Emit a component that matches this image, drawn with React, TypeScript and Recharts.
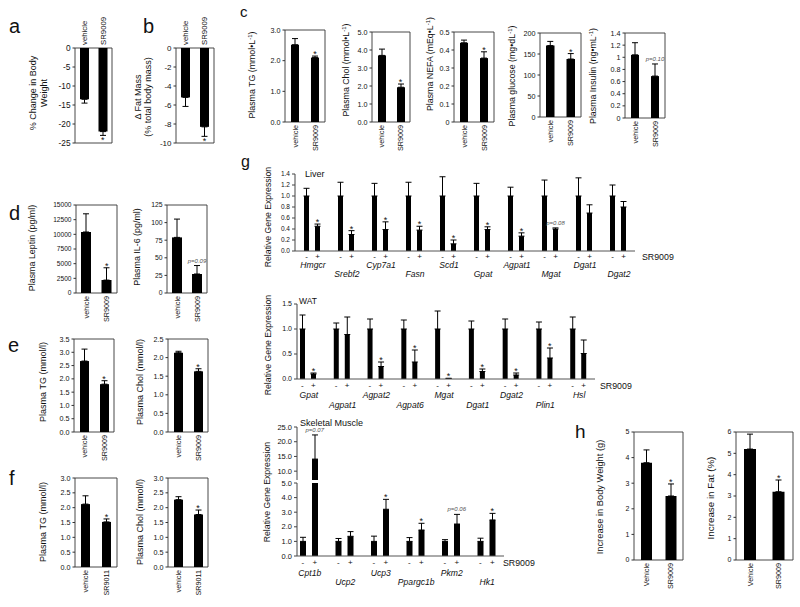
import React from "react";
import { ComposedChart, Bar, Line, XAxis, YAxis, ErrorBar, ReferenceArea } from "recharts";

const FONT = "'Liberation Sans', Arial, Helvetica, sans-serif";
const INK = "#111";
const FRAME = "#333";

// ---------- data ----------
// a / b
const vehCats = ["vehicle", "SR9009"];
const bodyWeightChange = [-13.5, -22.0];
const bodyWeightChangeErr = [1.0, 1.0];
const bodyWeightTicks = [-25, -20, -15, -10, -5, 0];
const fatMassChange = [-5.2, -8.3];
const fatMassChangeErr = [0.95, 1.0];
const fatMassTicks = [-10, -8, -6, -4, -2, 0];
const starOnTreated = ["", "*"];

// c
const tgC = [2.52, 2.1];
const tgCErr = [0.2, 0.05];
const tgCTicks = [0, 1, 2, 3];
const cholC = [3.7, 1.93];
const cholCErr = [0.35, 0.18];
const cholCTicks = [0, 1, 2, 3, 4, 5];
const nefaC = [0.44, 0.355];
const nefaCErr = [0.015, 0.035];
const nefaCTicks = [0, 0.1, 0.2, 0.3, 0.4, 0.5];
const glucoseC = [170, 138];
const glucoseCErr = [10, 13];
const glucoseCTicks = [0, 50, 100, 150, 200];
const insulinC = [1.04, 0.69];
const insulinCErr = [0.2, 0.2];
const insulinCSig = ["", "p=0.10"];
const insulinCTicks = [0, 0.2, 0.4, 0.6, 0.8, 1, 1.2, 1.4];

// d
const leptin = [10400, 2200];
const leptinErr = [3100, 2100];
const leptinTicks = [0, 2500, 5000, 7500, 10000, 12500, 15000];
const il6 = [79, 27];
const il6Err = [26, 12];
const il6Sig = ["", "p=0.09"];
const il6Ticks = [0, 25, 50, 75, 100, 125];

// e
const tgE = [2.67, 1.8];
const tgEErr = [0.45, 0.13];
const tgETicks = [0, 0.5, 1, 1.5, 2, 2.5, 3, 3.5];
const cholE = [2.13, 1.63];
const cholEErr = [0.04, 0.07];
const cholETicks = [0, 0.5, 1, 1.5, 2, 2.5];

// f
const sr9011Cats = ["vehicle", "SR9011"];
const tgF = [2.12, 1.52];
const tgFErr = [0.28, 0.1];
const cholF = [2.27, 1.77];
const cholFErr = [0.1, 0.15];
const fTicks = [0, 0.5, 1, 1.5, 2, 2.5, 3];

// g liver
const liverGenes = ["Hmgcr", "Srebf2", "Cyp7a1", "Fasn", "Scd1", "Gpat", "Agpat1", "Mgat", "Dgat1", "Dgat2"];
const liverCtrl = [1, 1, 1, 1, 1, 1, 1, 1, 1, 1];
const liverCtrlErr = [0.14, 0.25, 0.23, 0.25, 0.35, 0.23, 0.16, 0.29, 0.33, 0.2];
const liverTrt = [0.45, 0.3, 0.39, 0.38, 0.13, 0.39, 0.27, 0.4, 0.69, 0.8];
const liverTrtErr = [0.04, 0.07, 0.14, 0.07, 0.07, 0.05, 0.06, 0.02, 0.15, 0.1];
const liverSig = ["*", "*", "*", "*", "*", "*", "*", "p=0.08", "", ""];
const liverTicks = [0, 0.2, 0.4, 0.6, 0.8, 1, 1.2, 1.4];

// g WAT
const watGenes = ["Gpat", "Agpat1", "Agpat2", "Agpat6", "Mgat", "Dgat1", "Dgat2", "Plin1", "Hsl"];
const watCtrl = [1, 1, 1, 1, 1, 1, 1, 1, 1];
const watCtrlErr = [0.28, 0.12, 0.2, 0.18, 0.36, 0.16, 0.2, 0.14, 0.24];
const watTrt = [0.1, 0.89, 0.25, 0.34, 0.01, 0.15, 0.08, 0.42, 0.51];
const watTrtErr = [0.02, 0.35, 0.09, 0.24, 0.005, 0.05, 0.04, 0.2, 0.27];
const watSig = ["*", "", "*", "*", "*", "*", "*", "*", ""];
const watTicks = [0, 0.5, 1, 1.5];

// g skeletal muscle
const muscleGenes = ["Cpt1b", "Ucp2", "Ucp3", "Ppargc1b", "Pkm2", "Hk1"];
const muscleCtrl = [1, 1, 1, 1, 1, 1];
const muscleCtrlErr = [0.28, 0.2, 0.36, 0.26, 0.12, 0.22];
const muscleTrt = [14.1, 1.35, 3.2, 1.78, 2.19, 2.47];
const muscleTrtErr = [8.2, 0.32, 0.68, 0.46, 0.66, 0.45];
const muscleSig = ["p=0.07", "", "*", "*", "p=0.06", "*"];
const muscleLowTicks = [0, 1, 2, 3, 4, 5];
const muscleHighTicks = [10, 15, 20, 25];

// h
const hCats = ["Vehicle", "SR9009"];
const bwGain = [3.8, 2.5];
const bwGainErr = [0.5, 0.47];
const bwGainTicks = [0, 1, 2, 3, 4, 5];
const fatGain = [5.2, 3.2];
const fatGainErr = [0.7, 0.55];
const fatGainTicks = [0, 1, 2, 3, 4, 5, 6];

// ---------- helpers ----------
const M = 40;
const XH = 30;
const YW = 36;
const f1 = (v: number) => v.toFixed(1);
const plain = (v: number) => String(v);

function markDot(below: boolean, dx: number) {
  return (d: any) => {
    const key = `mark-${d.index}`;
    const mark = d.payload ? d.payload.mark : "";
    if (!mark || d.cy == null || Number.isNaN(d.cy)) return <g key={key} />;
    const star = mark === "*";
    const y = below ? d.cy + 8 : d.cy + (star ? 1 : -3);
    return (
      <text
        key={key}
        x={d.cx + dx}
        y={y}
        textAnchor="middle"
        fontFamily={FONT}
        fontSize={star ? 9 : 6}
        fontStyle={star ? "normal" : "italic"}
        fill={star ? INK : "#555"}
      >
        {mark}
      </text>
    );
  };
}

function CatTick(props: any) {
  const { x, y, payload, top, fs } = props;
  const bx = x + fs * 0.36;
  const by = top ? y - 3 : y + 3;
  return (
    <text
      x={bx}
      y={by}
      transform={`rotate(-90 ${bx} ${by})`}
      textAnchor={top ? "start" : "end"}
      fontSize={fs}
      fontFamily={FONT}
      fill={INK}
    >
      {payload.value}
    </text>
  );
}

type PairProps = {
  x: number;
  y: number;
  w: number;
  h: number;
  cats: string[];
  values: number[];
  errs: number[];
  sig: string[];
  domain: [number, number];
  ticks: number[];
  fmt: (v: number) => string;
  barSize: number;
  tickFs?: number;
  catFs?: number;
  labelsTop?: boolean;
};

function PairChart(p: PairProps) {
  const [lo, hi] = p.domain;
  const down = hi <= 0;
  const rows = p.cats.map((name, i) => ({
    name,
    value: p.values[i],
    err: down ? [p.errs[i], 0] : [0, p.errs[i]],
    mark: p.sig[i],
    markPos: p.sig[i] ? (down ? p.values[i] - p.errs[i] : p.values[i] + p.errs[i]) : null,
  }));
  const top = !!p.labelsTop;
  const catFs = p.catFs ?? 7.2;
  return (
    <div style={{ position: "absolute", left: p.x - M, top: p.y - M }}>
      <ComposedChart
        width={p.w + 2 * M}
        height={p.h + 2 * M}
        data={rows}
        margin={{ top: top ? M - XH : M, right: M, bottom: top ? M : M - XH, left: M - YW }}
      >
        <XAxis
          dataKey="name"
          orientation={top ? "top" : "bottom"}
          height={XH}
          axisLine={false}
          tickLine={false}
          tickSize={0}
          tickMargin={0}
          interval={0}
          tick={(t: any) => <CatTick {...t} top={top} fs={catFs} />}
        />
        <YAxis
          type="number"
          width={YW}
          domain={p.domain}
          ticks={p.ticks}
          interval={0}
          allowDataOverflow
          tickFormatter={p.fmt}
          axisLine={false}
          tickSize={2.5}
          tickMargin={2}
          tickLine={{ stroke: FRAME }}
          tick={{ fontSize: p.tickFs ?? 7.2, fill: INK, fontFamily: FONT }}
        />
        <ReferenceArea y1={lo} y2={hi} fill="none" stroke={FRAME} strokeWidth={0.9} ifOverflow="visible" />
        <Bar dataKey="value" fill="#000" barSize={p.barSize} isAnimationActive={false}>
          <ErrorBar dataKey="err" width={3} stroke="#000" strokeWidth={1} direction="y" />
        </Bar>
        <Line dataKey="markPos" stroke="none" isAnimationActive={false} activeDot={false} dot={markDot(down, 0)} />
      </ComposedChart>
    </div>
  );
}

function GeneTick(props: any) {
  const { x, y, payload, index, off, dy } = props;
  return (
    <g>
      <text x={x - off} y={y + dy[0]} textAnchor="middle" fontSize={8} fontFamily={FONT} fill={INK}>
        -
      </text>
      <text x={x + off} y={y + dy[0]} textAnchor="middle" fontSize={8} fontFamily={FONT} fill={INK}>
        +
      </text>
      <text
        x={x + 1}
        y={y + (index % 2 ? dy[2] : dy[1])}
        textAnchor="middle"
        fontStyle="italic"
        fontSize={8.6}
        fontFamily={FONT}
        fill={INK}
      >
        {payload.value}
      </text>
    </g>
  );
}

type GeneProps = {
  x: number;
  y: number;
  w: number;
  h: number;
  genes: string[];
  ctrl: number[];
  ctrlErr: number[];
  trt: number[];
  trtErr: number[];
  sig: string[];
  domain: [number, number];
  ticks: number[];
  barSize: number;
  barGap: number;
  padLeft: number;
  tickFs: number;
  dy?: number[];
};

function GeneChart(p: GeneProps) {
  const [lo, hi] = p.domain;
  const shown = (v: number) => (v >= lo ? v : null);
  const errOf = (v: number, e: number) => (v >= lo && v <= hi ? [0, e] : null);
  const rows = p.genes.map((name, i) => {
    const topVal = p.trt[i] + p.trtErr[i];
    return {
      name,
      ctrl: shown(p.ctrl[i]),
      ctrlErr: errOf(p.ctrl[i], p.ctrlErr[i]),
      trt: shown(p.trt[i]),
      trtErr: errOf(p.trt[i], p.trtErr[i]),
      mark: p.sig[i],
      markPos: p.sig[i] && topVal >= lo && topVal <= hi ? topVal : null,
    };
  });
  const hasX = !!p.dy;
  const off = (p.barSize + p.barGap) / 2;
  return (
    <div style={{ position: "absolute", left: p.x - M, top: p.y - M }}>
      <ComposedChart
        width={p.w + 2 * M}
        height={p.h + 2 * M}
        data={rows}
        barGap={p.barGap}
        margin={{ top: M, right: M, bottom: hasX ? M - XH : M, left: M - YW }}
      >
        <XAxis
          dataKey="name"
          hide={!hasX}
          height={XH}
          padding={{ left: p.padLeft, right: 0 }}
          axisLine={{ stroke: "#555" }}
          tickLine={false}
          tickSize={0}
          tickMargin={0}
          interval={0}
          tick={(t: any) => <GeneTick {...t} off={off} dy={p.dy} />}
        />
        <YAxis
          type="number"
          width={YW}
          domain={p.domain}
          ticks={p.ticks}
          interval={0}
          allowDataOverflow
          tickFormatter={f1}
          axisLine={{ stroke: "#444" }}
          tickLine={{ stroke: "#444" }}
          tickSize={3}
          tickMargin={2}
          tick={{ fontSize: p.tickFs, fill: INK, fontFamily: FONT }}
        />
        <Bar dataKey="ctrl" fill="#000" barSize={p.barSize} isAnimationActive={false}>
          <ErrorBar dataKey="ctrlErr" width={3} stroke="#000" strokeWidth={1} direction="y" />
        </Bar>
        <Bar dataKey="trt" fill="#000" barSize={p.barSize} isAnimationActive={false}>
          <ErrorBar dataKey="trtErr" width={3} stroke="#000" strokeWidth={1} direction="y" />
        </Bar>
        <Line dataKey="markPos" stroke="none" isAnimationActive={false} activeDot={false} dot={markDot(false, off)} />
      </ComposedChart>
    </div>
  );
}

function VT({ cx, cy, fs, children }: { cx: number; cy: number; fs: number; children: React.ReactNode }) {
  const x = cx + fs * 0.36;
  return (
    <text x={x} y={cy} transform={`rotate(-90 ${x} ${cy})`} textAnchor="middle" fontSize={fs}>
      {children}
    </text>
  );
}

function Sup({ s }: { s: string }) {
  return (
    <>
      <tspan dy={-3} fontSize={6}>
        {s}
      </tspan>
      <tspan dy={3}>)</tspan>
    </>
  );
}

function Overlay() {
  return (
    <svg
      width={800}
      height={607}
      style={{ position: "absolute", left: 0, top: 0, pointerEvents: "none" }}
      fontFamily={FONT}
      fill={INK}
    >
      <g fontSize={20}>
        <text x={9} y={33}>a</text>
        <text x={143} y={33}>b</text>
        <text x={9} y={220}>d</text>
        <text x={8} y={352}>e</text>
        <text x={9} y={485}>f</text>
        <text x={575} y={438} fontSize={19}>h</text>
        <text x={240} y={17} fontSize={15}>c</text>
        <text x={241} y={167} fontSize={16}>g</text>
      </g>

      <VT cx={33} cy={93} fs={9}>% Change in Body</VT>
      <VT cx={44} cy={93} fs={9}>Weight</VT>
      <VT cx={138} cy={97} fs={9}>Δ Fat Mass</VT>
      <VT cx={148} cy={97} fs={9}>(% total body mass)</VT>

      <VT cx={252} cy={75} fs={8.8}>
        Plasma TG (mmol•L<Sup s="-1" />
      </VT>
      <VT cx={346} cy={70} fs={8.8}>
        Plasma Chol (mmol•L<Sup s="-1" />
      </VT>
      <VT cx={430} cy={64} fs={8.8}>
        Plasma NEFA (mEq•L<Sup s="-1" />
      </VT>
      <VT cx={512} cy={76} fs={8.8}>
        Plasma glucose (mg•dL<Sup s="-1" />
      </VT>
      <VT cx={593} cy={76} fs={8.8}>
        Plasma Insulin (ng•mL<Sup s="-1" />
      </VT>

      <VT cx={32} cy={248} fs={8.9}>Plasma Leptin (pg/ml)</VT>
      <VT cx={137} cy={247} fs={8.9}>Plasma IL-6 (pg/ml)</VT>
      <VT cx={43} cy={382} fs={9}>Plasma TG (mmol/l)</VT>
      <VT cx={140} cy={382} fs={9}>Plasma Chol (mmol/l)</VT>
      <VT cx={43} cy={522} fs={9}>Plasma TG (mmol/l)</VT>
      <VT cx={140} cy={522} fs={9}>Plasma Chol (mmol/l)</VT>

      <VT cx={268} cy={217} fs={8.7}>Relative Gene Expression</VT>
      <VT cx={268} cy={345} fs={8.7}>Relative Gene Expression</VT>
      <VT cx={267} cy={492} fs={8.7}>Relative Gene Expression</VT>
      <VT cx={600} cy={497} fs={9.3}>Increase in Body Weight (g)</VT>
      <VT cx={710} cy={498} fs={9.8}>Increase in Fat (%)</VT>

      <text x={305} y={177} fontSize={9}>Liver</text>
      <text x={299} y={304} fontSize={8.5}>WAT</text>
      <text x={300} y={426} fontSize={9}>Skeletal Muscle</text>
      <text x={642} y={260} fontSize={8.8}>SR9009</text>
      <text x={600} y={389} fontSize={8.8}>SR9009</text>
      <text x={503} y={566} fontSize={8.8}>SR9009</text>
    </svg>
  );
}

export default function App() {
  return (
    <div
      style={{
        position: "absolute",
        left: 0,
        top: 0,
        width: 800,
        height: 607,
        background: "#fff",
        overflow: "hidden",
        fontFamily: FONT,
      }}
    >
      {/* a, b */}
      <PairChart x={75} y={48} w={37} h={95} cats={vehCats} values={bodyWeightChange} errs={bodyWeightChangeErr}
        sig={starOnTreated} domain={[-25, 0]} ticks={bodyWeightTicks} fmt={plain} barSize={9} tickFs={8.3} catFs={7.8} labelsTop />
      <PairChart x={176} y={48} w={38} h={95} cats={vehCats} values={fatMassChange} errs={fatMassChangeErr}
        sig={starOnTreated} domain={[-10, 0]} ticks={fatMassTicks} fmt={plain} barSize={9} tickFs={8} catFs={7.8} labelsTop />

      {/* c */}
      <PairChart x={285} y={30} w={40} h={92} cats={vehCats} values={tgC} errs={tgCErr} sig={starOnTreated}
        domain={[0, 3]} ticks={tgCTicks} fmt={f1} barSize={8} />
      <PairChart x={372} y={32} w={38} h={90} cats={vehCats} values={cholC} errs={cholCErr} sig={starOnTreated}
        domain={[0, 5]} ticks={cholCTicks} fmt={f1} barSize={8} />
      <PairChart x={454} y={32} w={40} h={90} cats={vehCats} values={nefaC} errs={nefaCErr} sig={starOnTreated}
        domain={[0, 0.5]} ticks={nefaCTicks} fmt={plain} barSize={8} />
      <PairChart x={540} y={33} w={41} h={84} cats={vehCats} values={glucoseC} errs={glucoseCErr} sig={starOnTreated}
        domain={[0, 200]} ticks={glucoseCTicks} fmt={plain} barSize={8.5} />
      <PairChart x={625} y={33} w={40} h={85} cats={vehCats} values={insulinC} errs={insulinCErr} sig={insulinCSig}
        domain={[0, 1.4]} ticks={insulinCTicks} fmt={plain} barSize={8} />

      {/* d */}
      <PairChart x={76} y={205} w={41} h={88} cats={vehCats} values={leptin} errs={leptinErr} sig={starOnTreated}
        domain={[0, 15000]} ticks={leptinTicks} fmt={plain} barSize={10} tickFs={6.6} />
      <PairChart x={167} y={205} w={40} h={88} cats={vehCats} values={il6} errs={il6Err} sig={il6Sig}
        domain={[0, 125]} ticks={il6Ticks} fmt={plain} barSize={10} tickFs={6.8} />

      {/* e */}
      <PairChart x={74} y={339} w={40} h={93} cats={vehCats} values={tgE} errs={tgEErr} sig={starOnTreated}
        domain={[0, 3.5]} ticks={tgETicks} fmt={f1} barSize={9} />
      <PairChart x={168} y={339} w={40} h={93} cats={vehCats} values={cholE} errs={cholEErr} sig={starOnTreated}
        domain={[0, 2.5]} ticks={cholETicks} fmt={f1} barSize={9} />

      {/* f */}
      <PairChart x={75} y={478} w={42} h={89} cats={sr9011Cats} values={tgF} errs={tgFErr} sig={starOnTreated}
        domain={[0, 3]} ticks={fTicks} fmt={f1} barSize={9} />
      <PairChart x={168} y={478} w={40} h={89} cats={sr9011Cats} values={cholF} errs={cholFErr} sig={starOnTreated}
        domain={[0, 3]} ticks={fTicks} fmt={f1} barSize={9} />

      {/* g */}
      <GeneChart x={295} y={174} w={340} h={77} genes={liverGenes} ctrl={liverCtrl} ctrlErr={liverCtrlErr}
        trt={liverTrt} trtErr={liverTrtErr} sig={liverSig} domain={[0, 1.4]} ticks={liverTicks}
        barSize={5} barGap={6} padLeft={0} tickFs={6.5} dy={[8, 17, 26]} />
      <GeneChart x={297} y={304} w={298} h={75} genes={watGenes} ctrl={watCtrl} ctrlErr={watCtrlErr}
        trt={watTrt} trtErr={watTrtErr} sig={watSig} domain={[0, 1.5]} ticks={watTicks}
        barSize={5} barGap={6} padLeft={-6} tickFs={7} dy={[9, 19, 29]} />
      <GeneChart x={297} y={427} w={207} h={53} genes={muscleGenes} ctrl={muscleCtrl} ctrlErr={muscleCtrlErr}
        trt={muscleTrt} trtErr={muscleTrtErr} sig={muscleSig} domain={[7, 25]} ticks={muscleHighTicks}
        barSize={6} barGap={6} padLeft={-6} tickFs={7.5} />
      <GeneChart x={297} y={483} w={207} h={73} genes={muscleGenes} ctrl={muscleCtrl} ctrlErr={muscleCtrlErr}
        trt={muscleTrt} trtErr={muscleTrtErr} sig={muscleSig} domain={[0, 5]} ticks={muscleLowTicks}
        barSize={6} barGap={6} padLeft={-6} tickFs={7.5} dy={[9, 20, 29]} />

      {/* h */}
      <PairChart x={634} y={432} w={49} h={128} cats={hCats} values={bwGain} errs={bwGainErr} sig={starOnTreated}
        domain={[0, 5]} ticks={bwGainTicks} fmt={plain} barSize={11} tickFs={7} />
      <PairChart x={736} y={432} w={57} h={128} cats={hCats} values={fatGain} errs={fatGainErr} sig={starOnTreated}
        domain={[0, 6]} ticks={fatGainTicks} fmt={plain} barSize={12} tickFs={7} />

      <Overlay />
    </div>
  );
}
